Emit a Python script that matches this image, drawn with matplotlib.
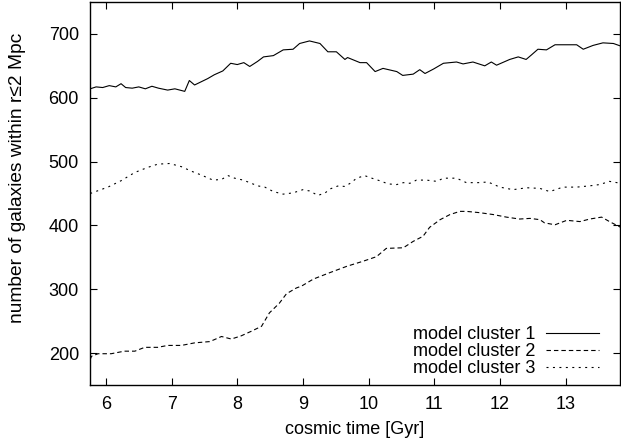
import matplotlib
matplotlib.use("Agg")
import matplotlib.pyplot as plt

plt.rcParams['font.family'] = ['Liberation Sans', 'DejaVu Sans']

# cosmic time [Gyr] and galaxy counts
c1_t = [5.76, 5.85, 5.95, 6.05, 6.15, 6.23, 6.3, 6.4, 6.5, 6.6,
        6.7, 6.8, 6.94, 7.05, 7.2, 7.27, 7.35, 7.45, 7.55, 7.65,
        7.78, 7.9, 8.0, 8.1, 8.19, 8.31, 8.4, 8.55, 8.7, 8.85,
        8.95, 9.1, 9.26, 9.38, 9.51, 9.64, 9.68, 9.87, 9.97, 10.1,
        10.22, 10.43, 10.52, 10.68, 10.78, 10.86, 10.99, 11.14, 11.34, 11.44,
        11.59, 11.77, 11.87, 11.95, 12.15, 12.28, 12.4, 12.48, 12.58, 12.71,
        12.84, 12.96, 13.17, 13.27, 13.42, 13.57, 13.73, 13.84]
c1_v = [614, 617, 616, 619, 617, 622, 616, 615, 617, 614,
        618, 615, 612, 614, 610, 627, 620, 625, 630, 636,
        642, 654, 652, 655, 649, 657, 664, 666, 675, 676,
        685, 689, 685, 672, 672, 660, 663, 655, 655, 641,
        646, 641, 635, 637, 644, 638, 645, 654, 656, 653,
        656, 650, 656, 651, 660, 664, 660, 667, 676, 675,
        683, 683, 683, 676, 682, 686, 685, 681]

c2_t = [5.76, 5.78, 5.88, 6.08, 6.28, 6.44, 6.59, 6.79, 6.94, 7.15,
        7.35, 7.58, 7.65, 7.76, 7.91, 8.06, 8.21, 8.37, 8.49, 8.64,
        8.75, 8.9, 8.98, 9.16, 9.41, 9.67, 9.92, 10.12, 10.27, 10.53,
        10.68, 10.83, 10.93, 11.09, 11.24, 11.39, 11.49, 11.69, 11.9, 12.1,
        12.3, 12.46, 12.61, 12.68, 12.84, 13.02, 13.22, 13.37, 13.55, 13.67,
        13.84]
c2_v = [190, 195, 199, 199, 203, 203, 209, 209, 212, 212,
        216, 218, 221, 226, 222, 227, 234, 242, 263, 278,
        293, 302, 305, 316, 326, 336, 344, 351, 364, 365,
        375, 383, 397, 409, 417, 422, 422, 420, 417, 413,
        410, 411, 409, 404, 401, 408, 406, 410, 413, 406,
        397]

c3_t = [5.76, 6.03, 6.23, 6.44, 6.64, 6.79, 6.97, 7.15, 7.3, 7.45,
        7.63, 7.76, 7.86, 7.96, 8.09, 8.19, 8.31, 8.42, 8.55, 8.7,
        8.85, 9.0, 9.1, 9.23, 9.34, 9.41, 9.54, 9.64, 9.72, 9.82,
        9.94, 10.05, 10.17, 10.3, 10.43, 10.53, 10.63, 10.73, 10.88, 11.04,
        11.14, 11.34, 11.49, 11.67, 11.82, 12.0, 12.2, 12.41, 12.61, 12.76,
        12.96, 13.17, 13.37, 13.52, 13.67, 13.84]
c3_v = [450, 460, 470, 483, 491, 496, 497, 492, 485, 479,
        471, 472, 478, 474, 471, 467, 462, 460, 453, 449,
        451, 456, 454, 447, 451, 457, 462, 461, 466, 474,
        478, 474, 470, 465, 464, 467, 466, 471, 471, 469,
        474, 474, 467, 467, 468, 460, 456, 459, 458, 453,
        460, 460, 462, 464, 469, 466]

labels = ['model cluster 1', 'model cluster 2', 'model cluster 3']
xticks = [6, 7, 8, 9, 10, 11, 12, 13]
yticks = [200, 300, 400, 500, 600, 700]

fig = plt.figure(figsize=(6.21, 4.47), dpi=100)
ax = fig.add_axes([90 / 621, 62 / 447, 530 / 621, 383 / 447])

lw = 0.8
ax.plot(c1_t, c1_v, color='black', lw=lw, ls='-', label=labels[0])
ax.plot(c2_t, c2_v, color='black', lw=lw, ls=(0, (4, 2.7)), label=labels[1])
ax.plot(c3_t, c3_v, color='black', lw=lw, ls=(0, (1.8, 4)), label=labels[2])

ax.set_xlim(5.757, 13.83)
ax.set_ylim(150, 750)
ax.set_xticks(xticks)
ax.set_yticks(yticks)
ax.tick_params(direction='in', length=5, width=0.8, top=True, right=True,
               labelsize=13, pad=8, colors='black')
for s in ax.spines.values():
    s.set_linewidth(1.0)

ax.set_xlabel('cosmic time [Gyr]', fontsize=13, labelpad=6)
ax.set_ylabel('number of galaxies within r≤2 Mpc', fontsize=13.8)
ax.yaxis.set_label_coords(-0.12, 0.54)

ax.legend(loc='lower right', bbox_to_anchor=(0.96, 0.02), frameon=False,
          markerfirst=False, fontsize=13, handlelength=2.9, handletextpad=0.6,
          labelspacing=0.0, borderpad=0, borderaxespad=0)

fig.savefig('out.png', dpi=100)
